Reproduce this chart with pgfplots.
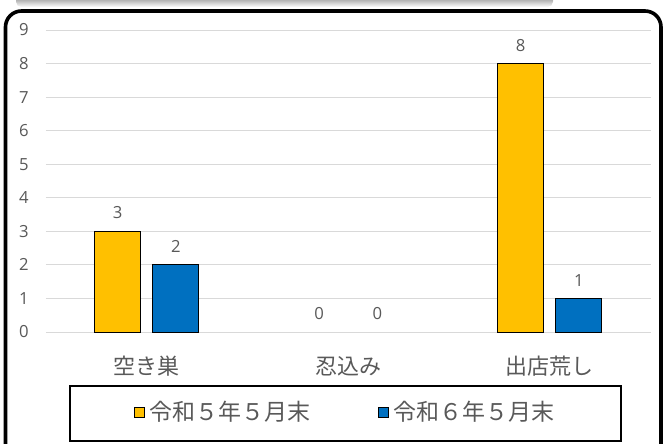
\documentclass[border=0pt]{standalone}
\usepackage{pgfplots}
\pgfplotsset{compat=1.18}
\usepackage{fontspec}
\setmainfont{Noto Sans CJK JP}
\newfontfamily\numfont{Open Sans}
\definecolor{yel}{HTML}{FFC000}
\definecolor{blu}{HTML}{0070C0}
\definecolor{txt}{HTML}{595959}
\definecolor{gridc}{HTML}{D9D9D9}
% pixel position (from top left of a 664x443 picture) to pt
\newcommand{\px}[2]{({(#1)*0.75pt},{(443-(#2))*0.75pt})}
\begin{document}
\begin{tikzpicture}
\useasboundingbox (0,0) rectangle (498pt,332.25pt);
\clip (0,0) rectangle (498pt,332.25pt);
% shadow of the element above
\shade[top color=black!55, bottom color=white, rounded corners=4pt] \px{16}{-6} rectangle \px{553}{7};
% chart frame
\draw[line width=2.7pt, rounded corners=12pt, fill=white] \px{5.5}{11} rectangle \px{661}{490};
% legend frame
\draw[line width=1.5pt] \px{70}{386} rectangle \px{621}{441};
\begin{axis}[
    at={(34.5pt,83.25pt)}, anchor=south west,
    scale only axis,
    width=453.4pt, height=226.5pt,
    xmin=-0.5, xmax=2.5, ymin=0, ymax=9,
    ybar, bar width=0.228,
    xtick={0,1,2},
    xticklabels={空き巣, 忍込み, 出店荒し},
    ytick={0,1,...,9},
    axis line style={draw=none},
    major tick length=0pt,
    ymajorgrids,
    grid style={gridc, line width=0.75pt},
    /pgf/number format/assume math mode=true,
    yticklabel style={font=\numfont\fontsize{12.5}{14}\selectfont, text=txt, anchor=center, xshift=-16.5pt},
    xticklabel style={font=\fontsize{16.5}{18}\selectfont, text=txt, anchor=center, yshift=-25.5pt},
    nodes near coords,
    every node near coord/.append style={font=\numfont\fontsize{12.5}{14}\selectfont, text=txt, anchor=center, yshift=13.75pt},
    legend columns=2,
    legend style={at={(0.4955,-0.265)}, anchor=center, draw=none, fill=none,
        font=\fontsize{17.25}{19}\selectfont, text=txt,
        /tikz/every odd column/.append style={column sep=1.5pt},
        /tikz/every even column/.append style={column sep=48pt}},
    legend image code/.code={\draw[#1, draw=black, line width=0.75pt] (0pt,-3.75pt) rectangle (7.5pt,3.75pt);},
    clip=false,
]
\addplot[fill=yel, draw=black, line width=0.75pt, bar shift=-0.144] coordinates {(0,3) (2,8)};
\addplot[fill=blu, draw=black, line width=0.75pt, bar shift=0.144] coordinates {(0,2) (2,1)};
\addplot[draw=none, fill=none, bar shift=-0.144, forget plot] coordinates {(1,0)};
\addplot[draw=none, fill=none, bar shift=0.144, forget plot] coordinates {(1,0)};
\legend{令和５年５月末, 令和６年５月末}
\end{axis}
\end{tikzpicture}
\end{document}
